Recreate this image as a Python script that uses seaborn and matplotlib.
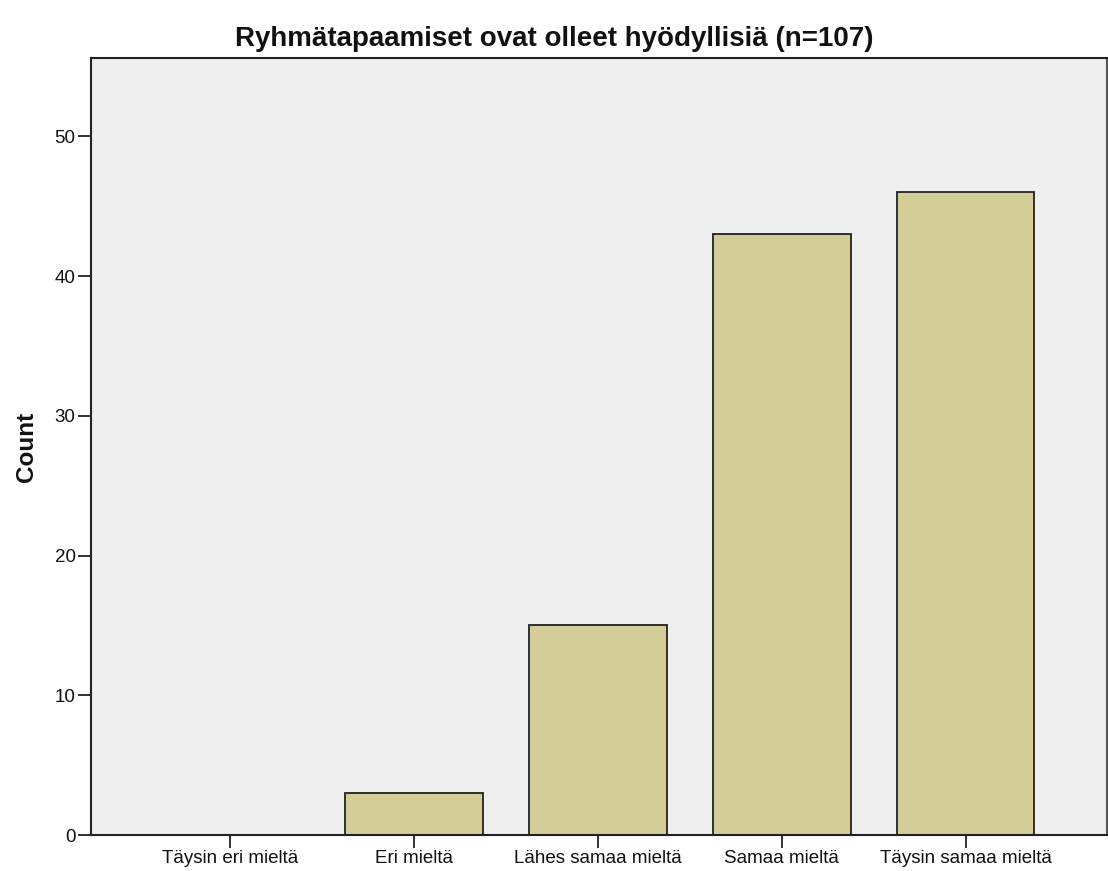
import numpy as np
import pandas as pd
import matplotlib
matplotlib.use("Agg")
import matplotlib.pyplot as plt
import seaborn as sns

# Vastausluokat ja lukumäärät
categories = ['Täysin eri mieltä', 'Eri mieltä', 'Lähes samaa mieltä',
              'Samaa mieltä', 'Täysin samaa mieltä']
counts = [0, 3, 15, 43, 46]
y_ticks = [0, 10, 20, 30, 40, 50]

df = pd.DataFrame({'Vastaus': categories, 'Count': counts})

sns.set_style("white")
plt.rcParams['font.family'] = ['Liberation Sans', 'DejaVu Sans']

fig = plt.figure(figsize=(11.08, 8.71), dpi=100)
ax = fig.add_axes([0.0821, 0.0413, 0.9171, 0.8921])
ax.set_facecolor('#efefef')

sns.barplot(data=df, x='Vastaus', y='Count', order=categories,
            color='#d3ce97', saturation=1, width=0.75,
            edgecolor='#222222', linewidth=1.3, ax=ax)

ax.set_xlim(-0.756, 4.77)
ax.set_ylim(0, 55.6)
ax.set_yticks(y_ticks)
ax.set_yticklabels([str(t) for t in y_ticks], fontsize=13.5)
ax.set_xticks(range(len(categories)))
ax.set_xticklabels(categories, fontsize=13.5)
ax.tick_params(axis='both', direction='out', length=9.5, width=1.3,
               color='#222222', pad=1.5, left=True, bottom=True,
               labelcolor='#111111')

for side in ['left', 'bottom', 'top']:
    ax.spines[side].set_color('#222222')
    ax.spines[side].set_linewidth(1.5)
ax.spines['right'].set_color('#555555')
ax.spines['right'].set_linewidth(1.5)

ax.set_xlabel('')
ax.set_ylabel('Count', fontsize=17.5, fontweight='bold', labelpad=12,
              color='#111111')
# otsikko keskitetään koko kuvan leveydelle
ax.set_title('Ryhmätapaamiset ovat olleet hyödyllisiä (n=107)', x=0.456,
             fontsize=20, fontweight='bold', pad=9, color='#111111')

fig.savefig('out.png', dpi=100)
